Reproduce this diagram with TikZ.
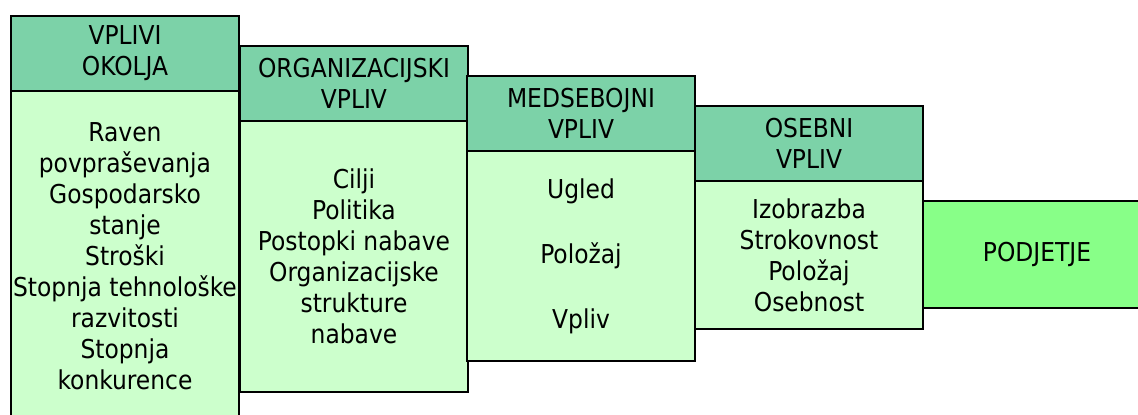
\documentclass[tikz,border=0pt]{standalone}
\usepackage{fontspec}
\setmainfont{DejaVu Sans Condensed}
\usetikzlibrary{positioning}

\definecolor{headgreen}{RGB}{124,210,168}
\definecolor{bodygreen}{RGB}{204,255,204}
\definecolor{firmgreen}{RGB}{136,255,136}

\tikzset{
  basebox/.style={rectangle, draw=black, line width=1.2pt, inner sep=0pt, outer sep=0pt,
    minimum width=114pt, align=center, font=\fontsize{13}{15.5}\selectfont},
  headbox/.style={basebox, fill=headgreen, minimum height=37.5pt},
  bodybox/.style={basebox, fill=bodygreen},
  firmbox/.style={basebox, fill=firmgreen, minimum height=53.5pt}
}

\begin{document}
\begin{tikzpicture}[x=0.5pt, y=-0.5pt, node distance=0pt]
\useasboundingbox (0,0) rectangle (1138,415);
\clip (0,0) rectangle (1138,415);

% okolje
\node (h1) [headbox, anchor=north west] at (11,16) {VPLIVI\\OKOLJA};
\node (b1) [bodybox, minimum height=165.5pt, below=of h1] {Raven\\povpraševanja\\Gospodarsko\\stanje\\Stroški\\Stopnja tehnološke\\razvitosti\\Stopnja\\konkurence};

% organizacija
\node (h2) [headbox, anchor=north west] at (240,46) {ORGANIZACIJSKI\\VPLIV};
\node (b2) [bodybox, minimum height=135.5pt, below=of h2] {Cilji\\Politika\\Postopki nabave\\Organizacijske\\strukture\\nabave};

% medsebojni
\node (h3) [headbox, anchor=north west] at (467,76) {MEDSEBOJNI\\VPLIV};
\node (b3) [bodybox, minimum height=105pt, below=of h3] {Ugled\\[17pt]Položaj\\[17pt]Vpliv};

% osebni
\node (h4) [headbox, anchor=north west] at (695,106) {OSEBNI\\VPLIV};
\node (b4) [bodybox, minimum height=74pt, below=of h4] {Izobrazba\\Strokovnost\\Položaj\\Osebnost};

\node (firm) [firmbox, anchor=west] at (923,254.5) {PODJETJE};

\end{tikzpicture}
\end{document}
